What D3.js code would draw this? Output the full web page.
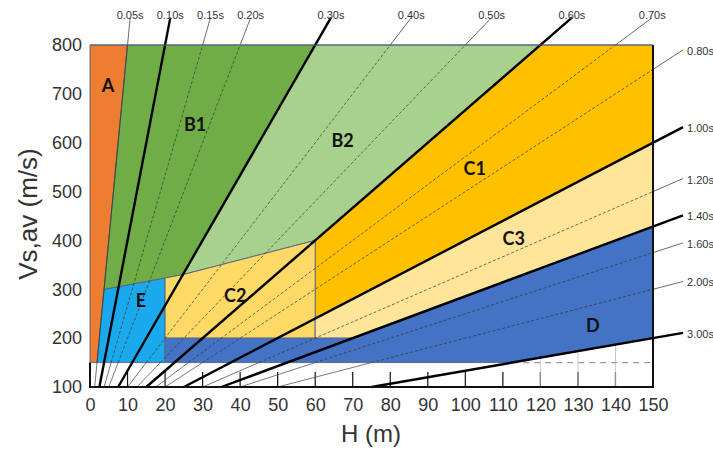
<!DOCTYPE html>
<html>
<head>
<meta charset="utf-8">
<script src="https://cdn.jsdelivr.net/npm/d3@7"></script>
<style>
  body { margin:0; background:#fff; }
  svg { display:block; font-family:"Liberation Sans", Arial, sans-serif; }
</style>
</head>
<body>
<div id="chart"></div>
<script>
// periods T (s) of the lines Vs = 4H/T
let periods = [0.05,0.10,0.15,0.20,0.30,0.40,0.50,0.60,0.70,0.80,1.00,1.20,1.40,1.60,2.00,3.00]
let boldPeriods = [0.10,0.30,0.60,1.00,1.40,3.00]

let xTicks = d3.range(0,151,10)
let yTicks = d3.range(100,801,100)

// site classes: name, colour, outline (H m, Vs m/s)
let classNames  = ["A","E","B1","B2","C1","C2","C3","D"]
let classColors = ["#ED7D31","#1AA9EC","#70AD47","#A9D18E","#FFC000","#FFD966","#FFE599","#4472C4"]
let classShapes = [
  [[0,150],[0,800],[10,800],[1.875,150]],
  [[1.875,150],[3.75,300],[20,323],[20,150]],
  [[10,800],[3.75,300],[24.75,330],[60,800]],
  [[60,800],[24.75,330],[60,400],[120,800]],
  [[120,800],[60,400],[60,240],[150,600],[150,800]],
  [[20,323],[24.75,330],[60,400],[60,200],[20,200]],
  [[60,240],[150,600],[150,428.6],[70,200],[60,200]],
  [[20,150],[20,200],[70,200],[150,428.6],[150,200],[112.5,150]]
]
let classLabelPos = [[4.8,714],[13.6,274],[28,634],[67.3,601],[102.5,544],[38.7,284],[112.9,401],[134,223]]

let width = 713, height = 457

let x = d3.scaleLinear().domain([0,150]).range([90,653])
let y = d3.scaleLinear().domain([100,800]).range([387,45])

let svg = d3.select("#chart").append("svg").attr("width",width).attr("height",height)

let line = d3.line().x(d=>x(d[0])).y(d=>y(d[1]))

// white strip details: ticks from bottom axis, dashed 150 line
let g0 = svg.append("g")
g0.selectAll("line.vt").data(xTicks.slice(1,15)).enter().append("line")
  .attr("x1",d=>x(d)).attr("x2",d=>x(d))
  .attr("y1",y(100)).attr("y2",y(100)-15)
  .attr("stroke","#111").attr("stroke-width",1.2)
g0.selectAll("line.gt").data([120,130,140]).enter().append("line")
  .attr("x1",d=>x(d)).attr("x2",d=>x(d))
  .attr("y1",y(100)).attr("y2",y(185))
  .attr("stroke","#bbb").attr("stroke-width",0.8)
g0.append("path").attr("d",line([[112.5,150],[150,150]]))
  .attr("stroke","#999").attr("stroke-width",1.3).attr("stroke-dasharray","6,5").attr("fill","none")

// coloured regions
svg.append("g").selectAll("path").data(classShapes).enter().append("path")
  .attr("d",d=>line(d)+"Z")
  .attr("fill",(d,i)=>classColors[i])
  .attr("stroke","#52627e").attr("stroke-width",0.9)

// period lines
let lines = svg.append("g")
periods.forEach(T=>{
  let bold = boldPeriods.includes(T)
  let hAt = v => v*T/4
  let exitV = Math.min(800, 4*150/T)
  let top = hAt(856) <= 156
  let end = top ? [hAt(856),856] : [158, 4*158/T]
  if (bold) {
    lines.append("path").attr("d",line([[hAt(100),100],end]))
      .attr("stroke","#000").attr("stroke-width",2.4).attr("fill","none")
  } else {
    lines.append("path").attr("d",line([[hAt(100),100],[hAt(150),150]]))
      .attr("stroke","#555").attr("stroke-width",0.8).attr("fill","none")
    lines.append("path").attr("d",line([[hAt(150),150],[hAt(exitV),exitV]]))
      .attr("stroke","#333").attr("stroke-width",0.7).attr("fill","none")
      .attr("stroke-dasharray", T==0.05 ? null : "3,2")
    lines.append("path").attr("d",line([[hAt(exitV),exitV],end]))
      .attr("stroke","#444").attr("stroke-width",0.8).attr("fill","none")
  }
  let lab = lines.append("text").text(T.toFixed(2)+"s")
    .attr("font-size",11).attr("fill","#333")
  if (top) lab.attr("x",x(end[0])).attr("y",19).attr("text-anchor","middle")
  else lab.attr("x",x(158)+4).attr("y",y(end[1])+5)
})

// frame
svg.append("path").attr("d",line([[0,150],[0,100],[150,100],[150,800]]))
  .attr("stroke","#111").attr("stroke-width",2).attr("fill","none")
svg.append("path").attr("d",line([[0,800],[150,800]]))
  .attr("stroke","#52627e").attr("stroke-width",1).attr("fill","none")

// class labels
svg.append("g").selectAll("text").data(classNames).enter().append("text")
  .text(d=>d)
  .attr("x",(d,i)=>x(classLabelPos[i][0]))
  .attr("y",(d,i)=>y(classLabelPos[i][1]))
  .attr("text-anchor","middle").attr("dominant-baseline","middle")
  .attr("font-family","Lato, 'Open Sans', sans-serif").attr("font-weight","bold")
  .attr("font-size",18).attr("fill","#111")

// axes
let xAxis = d3.axisBottom(x).tickValues(xTicks).tickSize(0).tickPadding(11)
let yAxis = d3.axisLeft(y).tickValues(yTicks).tickSize(0).tickPadding(8)
let xg = svg.append("g").attr("transform",`translate(0,${y(100)})`).call(xAxis)
let yg = svg.append("g").attr("transform",`translate(${x(0)},0)`).call(yAxis)
xg.select(".domain").remove()
yg.select(".domain").remove()
svg.selectAll(".tick text").attr("font-size",18).attr("fill","#333")
  .attr("font-family","'Liberation Sans', Arial, sans-serif")

svg.append("text").text("H (m)").attr("x",371).attr("y",442)
  .attr("text-anchor","middle").attr("font-size",24).attr("fill","#333")
svg.append("text").text("Vs,av (m/s)")
  .attr("transform","translate(37,214) rotate(-90)")
  .attr("text-anchor","middle").attr("font-size",26).attr("fill","#333")
</script>
</body>
</html>
